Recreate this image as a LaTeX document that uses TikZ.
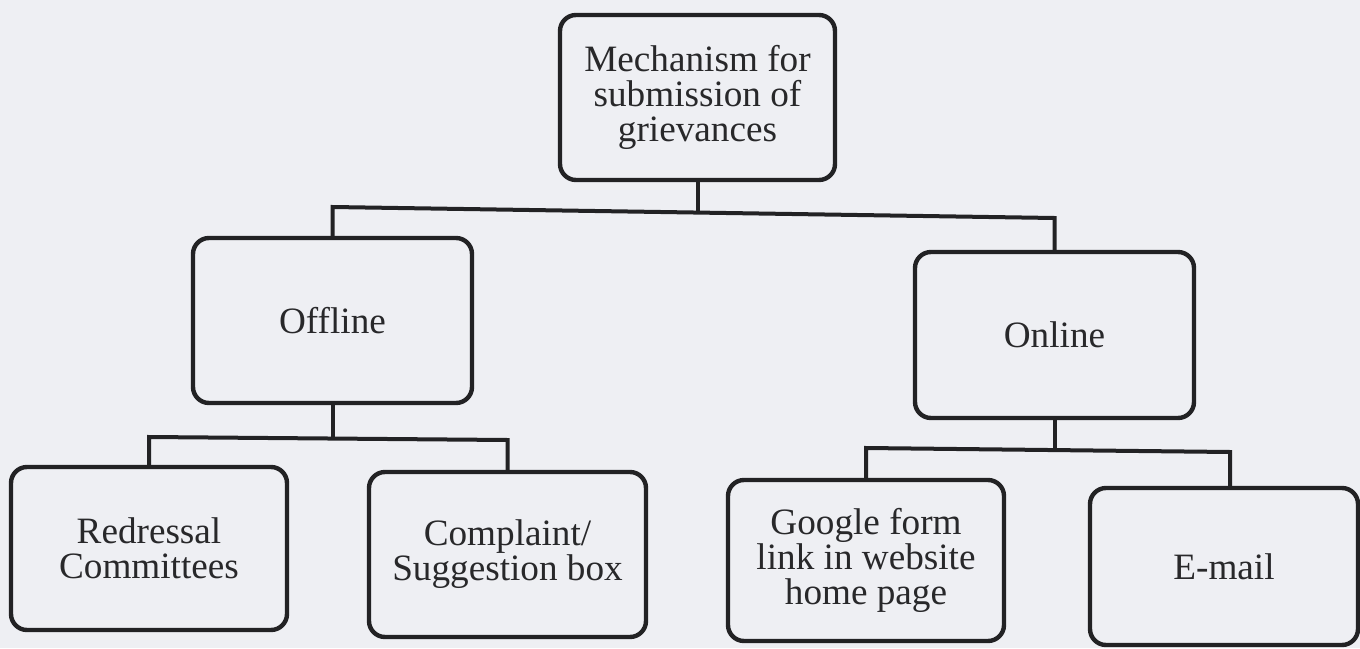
\documentclass[tikz,border=0pt]{standalone}
\usepackage{fontspec}
\setmainfont{Liberation Serif}
\definecolor{paper}{RGB}{238,239,243}
\definecolor{ink}{RGB}{34,34,36}
\definecolor{txt}{RGB}{40,40,42}
\begin{document}
\begin{tikzpicture}[x=0.5pt,y=-0.5pt,
  box/.style={draw=ink, line width=2.2pt, rounded corners=8pt, rectangle,
    align=center, text=txt, inner sep=0pt,
    font=\fontsize{18.6}{17.6}\selectfont},
  link/.style={draw=ink, line width=2pt, line join=miter}]
\fill[paper] (0,0) rectangle (1360,648);
\useasboundingbox (0,0) rectangle (1360,648);

\node[box, minimum width=137.5pt, minimum height=82.5pt] (top) at (697.5,97.5)
  {Mechanism for\\submission of\\grievances};
\node[box, minimum width=139.5pt, minimum height=82.5pt] (off) at (332.5,320.5) {Offline};
\node[box, minimum width=139.5pt, minimum height=83pt] (on) at (1054.5,335) {Online};
\node[box, minimum width=138pt, minimum height=81.5pt] (red) at (149,548.5)
  {Redressal\\Committees};
\node[box, minimum width=138.5pt, minimum height=82.5pt] (com) at (507.5,554.5)
  {Complaint/\\Suggestion box};
\node[box, minimum width=138pt, minimum height=80.5pt] (goo) at (866,560.5)
  {Google form\\link in website\\home page};
\node[box, minimum width=134pt, minimum height=78.5pt] (em) at (1224,566.5) {E-mail};

\coordinate (j1l) at (332.5,207);
\coordinate (j1m) at (697.5,212.5);
\coordinate (j1r) at (1054.5,218);
\coordinate (j2l) at (149,437);
\coordinate (j2m) at (332.5,438.5);
\coordinate (j2r) at (507.5,440);
\coordinate (j3l) at (866,448);
\coordinate (j3m) at (1054.5,450);
\coordinate (j3r) at (1230,452);

\draw[link] (top.south) -- (j1m);
\draw[link] (off.north) -- (j1l) -- (j1r) -- (on.north);
\draw[link] (off.south) -- (j2m);
\draw[link] (red.north) -- (j2l) -- (j2r) -- (com.north);
\draw[link] (on.south) -- (j3m);
\draw[link] (goo.north) -- (j3l) -- (j3r) -- (j3r |- em.north);
\end{tikzpicture}
\end{document}
